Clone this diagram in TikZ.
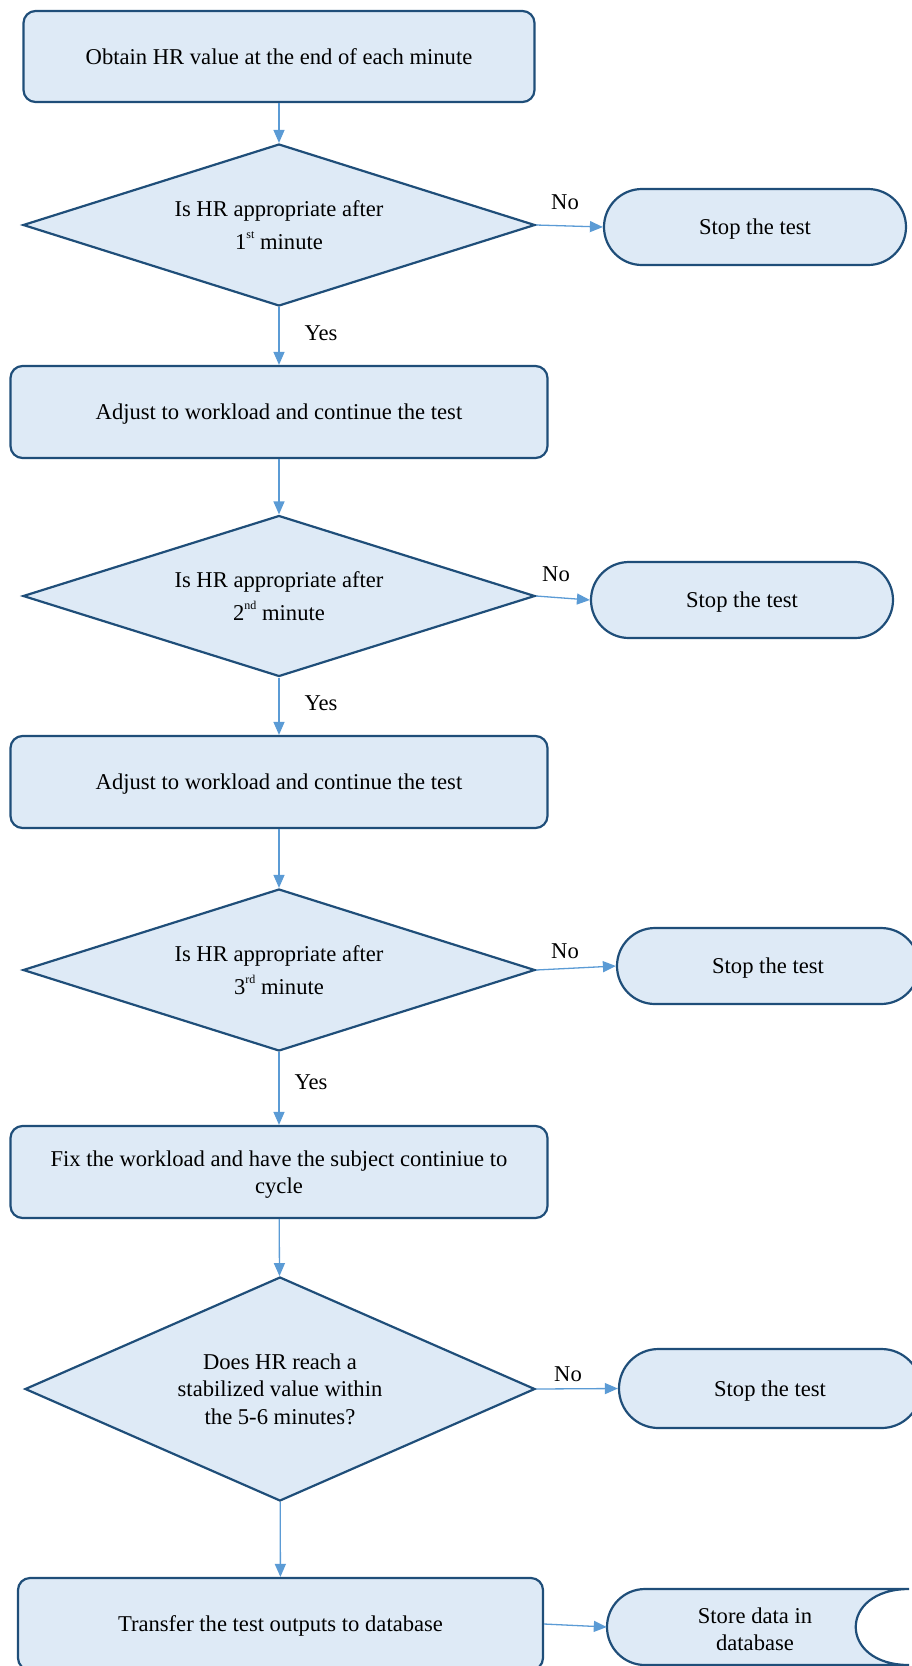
\documentclass[tikz,border=0pt]{standalone}
\usepackage{fontspec}
\setmainfont{Liberation Serif}
\usetikzlibrary{arrows.meta,shapes.geometric,shapes.misc}
\definecolor{fillc}{HTML}{DEEAF6}
\definecolor{linec}{HTML}{1F4E79}
\definecolor{arrc}{HTML}{5B9BD5}
\newcommand{\mysup}[1]{\raisebox{11pt}{\fontsize{12}{12}\selectfont #1}}
\begin{document}
\begin{tikzpicture}[x=1pt,y=-1pt,
  txt/.style={font=\fontsize{22.6}{27.5}\selectfont, align=center},
  base/.style={txt, draw=linec, fill=fillc, line width=2.2pt, inner sep=0pt, text depth=0pt},
  procbox/.style={base, rectangle, rounded corners=12pt, minimum width=#1, minimum height=92pt},
  decision/.style={base, diamond, aspect=3, minimum width=512pt},
  stopbox/.style={base, rounded rectangle, minimum width=302pt, minimum height=76pt},
  conn/.style={draw=arrc, line width=1.3pt, -{Triangle[length=13pt,width=11pt]}},
  lbl/.style={txt, inner sep=0pt}
]
\useasboundingbox (0,0) rectangle (912,1666);
% row 1
\node[procbox=511pt, minimum height=91pt] (b1) at (279,56.5) {Obtain HR value at the end of each minute};
\node[decision, minimum height=162pt] (d1) at (279,225) {Is HR appropriate after\\[5pt]1\mysup{st} minute};
\node[stopbox] (s1) at (755,227) {Stop the test};
% row 2
\node[procbox=537pt] (b2) at (279,412) {Adjust to workload and continue the test};
\node[decision, minimum height=161pt] (d2) at (279,596) {Is HR appropriate after\\[5pt]2\mysup{nd} minute};
\node[stopbox] (s2) at (742,600) {Stop the test};
% row 3
\node[procbox=537pt] (b3) at (279,782) {Adjust to workload and continue the test};
\node[decision, minimum height=162pt] (d3) at (279,970) {Is HR appropriate after\\[5pt]3\mysup{rd} minute};
\node[stopbox] (s3) at (768,966) {Stop the test};
% row 4
\node[procbox=537pt] (b4) at (279,1172) {Fix the workload and have the subject continiue to\\cycle};
\node[decision, minimum width=510pt, minimum height=224pt] (d4) at (280,1389) {Does HR reach a\\stabilized value within\\the 5-6 minutes?};
\node[stopbox, minimum height=79pt] (s4) at (770,1388.5) {Stop the test};
% row 5
\node[procbox=525pt] (b5) at (280.5,1624) {Transfer the test outputs to database};
\node[minimum width=303pt, minimum height=76pt, inner sep=0pt] (st) at (758.5,1627) {};
\draw[draw=linec, fill=fillc, line width=2.2pt]
  (909,1589) -- (645,1589)
  .. controls (624,1589) and (607,1606) .. (607,1627)
  .. controls (607,1648) and (624,1665) .. (645,1665)
  -- (909,1665)
  .. controls (838,1665) and (838,1589) .. (909,1589) -- cycle;
\node[txt, inner sep=0pt] (stt) at (755,1629) {Store data in\\database};
% connectors
\draw[conn] (b1) -- (d1);
\draw[conn] (d1.east) -- (s1.west);
\draw[conn] (d1) -- (b2);
\draw[conn] (b2) -- (d2);
\draw[conn] (d2.east) -- (s2.west);
\draw[conn] (d2) -- (b3);
\draw[conn] (b3) -- (d3);
\draw[conn] (d3.east) -- (s3.west);
\draw[conn] (d3) -- (b4);
\draw[conn] (b4) -- (d4);
\draw[conn] (d4.east) -- (s4.west);
\draw[conn] (d4) -- (b5);
\draw[conn] (b5.east) -- (st.west);
% labels
\node[lbl] (n1) at (565,202) {No};
\node[lbl] (y1) at (321,333) {Yes};
\node[lbl] (n2) at (556,574) {No};
\node[lbl] (y2) at (321,703) {Yes};
\node[lbl] (n3) at (565,951) {No};
\node[lbl] (y3) at (311,1082) {Yes};
\node[lbl] (n4) at (568,1374) {No};
\end{tikzpicture}
\end{document}
